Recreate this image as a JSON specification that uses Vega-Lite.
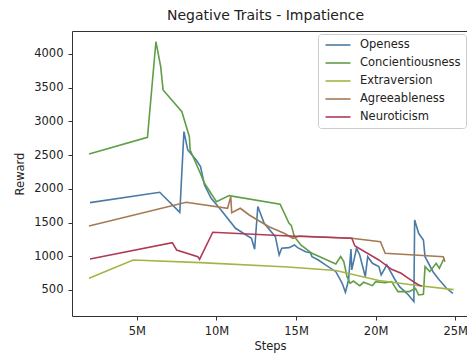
{
  "$schema": "https://vega.github.io/schema/vega-lite/v6.json",
  "width": 396,
  "height": 285,
  "autosize": {"type": "none"},
  "padding": {"left": 72, "top": 31, "right": 0, "bottom": 38},
  "background": "white",
  "title": {"text": "Negative Traits - Impatience", "font": "DejaVu Sans", "fontSize": 14, "fontWeight": "normal", "color": "#222", "anchor": "start", "frame": "group", "dx": 95, "offset": 8},
  "config": {
    "view": {"stroke": "#333", "strokeWidth": 1},
    "axis": {"grid": false, "domain": false, "tickColor": "#333", "tickSize": 4, "labelFont": "DejaVu Sans", "labelFontSize": 11.5, "labelColor": "#222", "labelPadding": 5, "titleFont": "DejaVu Sans", "titleFontSize": 11.5, "titleFontWeight": "normal", "titleColor": "#222"}
  },
  "data": {"values": [
    {"trait": "Openess", "step": 2.06, "reward": 1795},
    {"trait": "Openess", "step": 6.44, "reward": 1949},
    {"trait": "Openess", "step": 7.7, "reward": 1652},
    {"trait": "Openess", "step": 7.96, "reward": 2848},
    {"trait": "Openess", "step": 8.2, "reward": 2576},
    {"trait": "Openess", "step": 8.73, "reward": 2428},
    {"trait": "Openess", "step": 9.0, "reward": 2329},
    {"trait": "Openess", "step": 9.25, "reward": 2057},
    {"trait": "Openess", "step": 9.67, "reward": 1860},
    {"trait": "Openess", "step": 10.2, "reward": 1712},
    {"trait": "Openess", "step": 11.2, "reward": 1415},
    {"trait": "Openess", "step": 12.2, "reward": 1267},
    {"trait": "Openess", "step": 12.4, "reward": 1104},
    {"trait": "Openess", "step": 12.6, "reward": 1737},
    {"trait": "Openess", "step": 13.0, "reward": 1489},
    {"trait": "Openess", "step": 13.7, "reward": 1291},
    {"trait": "Openess", "step": 13.94, "reward": 1019},
    {"trait": "Openess", "step": 14.1, "reward": 1118},
    {"trait": "Openess", "step": 14.56, "reward": 1128},
    {"trait": "Openess", "step": 14.9, "reward": 1167},
    {"trait": "Openess", "step": 15.1, "reward": 1128},
    {"trait": "Openess", "step": 15.6, "reward": 1068},
    {"trait": "Openess", "step": 15.9, "reward": 1053},
    {"trait": "Openess", "step": 16.0, "reward": 994},
    {"trait": "Openess", "step": 16.4, "reward": 945},
    {"trait": "Openess", "step": 16.85, "reward": 871},
    {"trait": "Openess", "step": 17.5, "reward": 771},
    {"trait": "Openess", "step": 17.9, "reward": 599},
    {"trait": "Openess", "step": 18.1, "reward": 466},
    {"trait": "Openess", "step": 18.3, "reward": 648},
    {"trait": "Openess", "step": 18.45, "reward": 1108},
    {"trait": "Openess", "step": 18.5, "reward": 797},
    {"trait": "Openess", "step": 18.8, "reward": 1118},
    {"trait": "Openess", "step": 19.0, "reward": 1019},
    {"trait": "Openess", "step": 19.35, "reward": 697},
    {"trait": "Openess", "step": 19.5, "reward": 994},
    {"trait": "Openess", "step": 19.8, "reward": 896},
    {"trait": "Openess", "step": 20.2, "reward": 846},
    {"trait": "Openess", "step": 20.35, "reward": 722},
    {"trait": "Openess", "step": 20.7, "reward": 871},
    {"trait": "Openess", "step": 21.2, "reward": 659},
    {"trait": "Openess", "step": 21.5, "reward": 549},
    {"trait": "Openess", "step": 22.06, "reward": 426},
    {"trait": "Openess", "step": 22.4, "reward": 327},
    {"trait": "Openess", "step": 22.45, "reward": 1538},
    {"trait": "Openess", "step": 22.7, "reward": 1341},
    {"trait": "Openess", "step": 23.0, "reward": 1241},
    {"trait": "Openess", "step": 23.1, "reward": 994},
    {"trait": "Openess", "step": 23.6, "reward": 771},
    {"trait": "Openess", "step": 24.0, "reward": 648},
    {"trait": "Openess", "step": 24.45, "reward": 525},
    {"trait": "Openess", "step": 24.85, "reward": 451},
    {"trait": "Concientiousness", "step": 2.0, "reward": 2517},
    {"trait": "Concientiousness", "step": 5.67, "reward": 2765},
    {"trait": "Concientiousness", "step": 6.2, "reward": 4182},
    {"trait": "Concientiousness", "step": 6.5, "reward": 3812},
    {"trait": "Concientiousness", "step": 6.65, "reward": 3466},
    {"trait": "Concientiousness", "step": 7.83, "reward": 3144},
    {"trait": "Concientiousness", "step": 8.3, "reward": 2773},
    {"trait": "Concientiousness", "step": 8.35, "reward": 2576},
    {"trait": "Concientiousness", "step": 8.9, "reward": 2280},
    {"trait": "Concientiousness", "step": 9.25, "reward": 2082},
    {"trait": "Concientiousness", "step": 10.0, "reward": 1810},
    {"trait": "Concientiousness", "step": 10.8, "reward": 1899},
    {"trait": "Concientiousness", "step": 14.0, "reward": 1771},
    {"trait": "Concientiousness", "step": 14.56, "reward": 1489},
    {"trait": "Concientiousness", "step": 14.7, "reward": 1459},
    {"trait": "Concientiousness", "step": 14.9, "reward": 1290},
    {"trait": "Concientiousness", "step": 15.3, "reward": 1167},
    {"trait": "Concientiousness", "step": 16.0, "reward": 1044},
    {"trait": "Concientiousness", "step": 17.5, "reward": 886},
    {"trait": "Concientiousness", "step": 17.8, "reward": 995},
    {"trait": "Concientiousness", "step": 18.0, "reward": 920},
    {"trait": "Concientiousness", "step": 18.2, "reward": 697},
    {"trait": "Concientiousness", "step": 18.4, "reward": 599},
    {"trait": "Concientiousness", "step": 18.6, "reward": 633},
    {"trait": "Concientiousness", "step": 19.0, "reward": 564},
    {"trait": "Concientiousness", "step": 19.25, "reward": 614},
    {"trait": "Concientiousness", "step": 19.8, "reward": 564},
    {"trait": "Concientiousness", "step": 20.0, "reward": 623},
    {"trait": "Concientiousness", "step": 20.6, "reward": 608},
    {"trait": "Concientiousness", "step": 21.0, "reward": 623},
    {"trait": "Concientiousness", "step": 21.4, "reward": 475},
    {"trait": "Concientiousness", "step": 22.1, "reward": 475},
    {"trait": "Concientiousness", "step": 22.5, "reward": 524},
    {"trait": "Concientiousness", "step": 22.7, "reward": 426},
    {"trait": "Concientiousness", "step": 23.0, "reward": 436},
    {"trait": "Concientiousness", "step": 23.1, "reward": 846},
    {"trait": "Concientiousness", "step": 23.4, "reward": 772},
    {"trait": "Concientiousness", "step": 23.8, "reward": 896},
    {"trait": "Concientiousness", "step": 24.0, "reward": 822},
    {"trait": "Concientiousness", "step": 24.25, "reward": 945},
    {"trait": "Concientiousness", "step": 24.35, "reward": 955},
    {"trait": "Extraversion", "step": 2.0, "reward": 673},
    {"trait": "Extraversion", "step": 4.77, "reward": 945},
    {"trait": "Extraversion", "step": 9.0, "reward": 905},
    {"trait": "Extraversion", "step": 14.5, "reward": 840},
    {"trait": "Extraversion", "step": 17.5, "reward": 790},
    {"trait": "Extraversion", "step": 20.2, "reward": 640},
    {"trait": "Extraversion", "step": 22.5, "reward": 570},
    {"trait": "Extraversion", "step": 24.9, "reward": 505},
    {"trait": "Agreeableness", "step": 2.0, "reward": 1449},
    {"trait": "Agreeableness", "step": 8.1, "reward": 1800},
    {"trait": "Agreeableness", "step": 10.7, "reward": 1712},
    {"trait": "Agreeableness", "step": 10.9, "reward": 1884},
    {"trait": "Agreeableness", "step": 10.96, "reward": 1646},
    {"trait": "Agreeableness", "step": 11.5, "reward": 1712},
    {"trait": "Agreeableness", "step": 12.06, "reward": 1612},
    {"trait": "Agreeableness", "step": 13.3, "reward": 1439},
    {"trait": "Agreeableness", "step": 14.25, "reward": 1341},
    {"trait": "Agreeableness", "step": 14.8, "reward": 1267},
    {"trait": "Agreeableness", "step": 15.2, "reward": 1301},
    {"trait": "Agreeableness", "step": 18.5, "reward": 1267},
    {"trait": "Agreeableness", "step": 20.3, "reward": 1216},
    {"trait": "Agreeableness", "step": 20.6, "reward": 1044},
    {"trait": "Agreeableness", "step": 24.25, "reward": 994},
    {"trait": "Agreeableness", "step": 24.35, "reward": 920},
    {"trait": "Neuroticism", "step": 2.06, "reward": 960},
    {"trait": "Neuroticism", "step": 7.23, "reward": 1201},
    {"trait": "Neuroticism", "step": 7.5, "reward": 1093},
    {"trait": "Neuroticism", "step": 8.83, "reward": 994},
    {"trait": "Neuroticism", "step": 8.94, "reward": 955},
    {"trait": "Neuroticism", "step": 9.77, "reward": 1356},
    {"trait": "Neuroticism", "step": 14.56, "reward": 1301},
    {"trait": "Neuroticism", "step": 18.5, "reward": 1267},
    {"trait": "Neuroticism", "step": 18.7, "reward": 1153},
    {"trait": "Neuroticism", "step": 20.2, "reward": 945},
    {"trait": "Neuroticism", "step": 21.0, "reward": 807},
    {"trait": "Neuroticism", "step": 21.6, "reward": 747},
    {"trait": "Neuroticism", "step": 22.06, "reward": 673},
    {"trait": "Neuroticism", "step": 22.7, "reward": 574},
    {"trait": "Neuroticism", "step": 22.9, "reward": 559}
  ]},
  "mark": {"type": "line", "strokeWidth": 1.6, "clip": true},
  "encoding": {
    "x": {"field": "step", "type": "quantitative", "scale": {"domain": [0.93, 25.8], "nice": false, "zero": false},
          "axis": {"values": [5, 10, 15, 20, 25], "labelExpr": "datum.value + 'M'", "title": "Steps", "titlePadding": 4}},
    "y": {"field": "reward", "type": "quantitative", "scale": {"domain": [114, 4341], "nice": false, "zero": false},
          "axis": {"values": [500, 1000, 1500, 2000, 2500, 3000, 3500, 4000], "format": "d", "title": "Reward", "titlePadding": 8}},
    "color": {"field": "trait", "type": "nominal",
              "scale": {"domain": ["Openess", "Concientiousness", "Extraversion", "Agreeableness", "Neuroticism"],
                        "range": ["#4a7ba6", "#5f9e45", "#a5b545", "#a57a52", "#b03a55"]},
              "legend": {"title": null, "orient": "none", "legendX": 246, "legendY": 3, "fillColor": "white", "strokeColor": "#ccc", "cornerRadius": 3, "padding": 5,
                         "symbolType": "M-2.5,0H2.5", "symbolSize": 100, "symbolOffset": 9, "symbolStrokeWidth": 1.6, "labelFont": "DejaVu Sans", "labelFontSize": 11.5, "labelColor": "#222", "labelOffset": 16, "rowPadding": 6}}
  }
}
